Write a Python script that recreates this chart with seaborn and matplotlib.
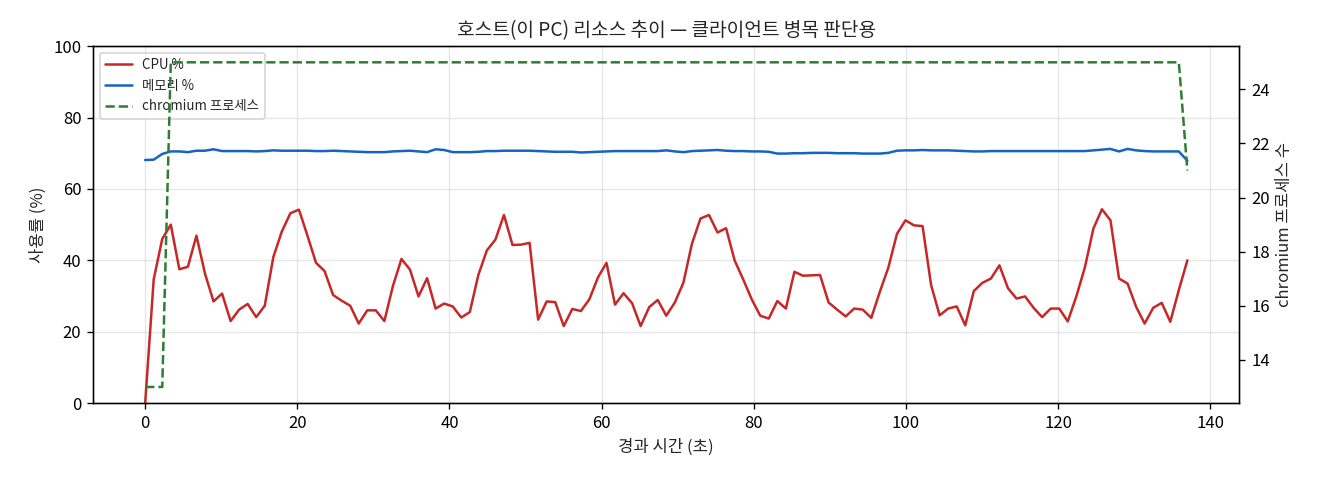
import numpy as np
import pandas as pd
import matplotlib
matplotlib.use("Agg")
import matplotlib.pyplot as plt
import seaborn as sns

# ---- data ----
n_points = 123
duration_s = 137.0
elapsed = [round(i * duration_s / (n_points - 1), 3) for i in range(n_points)]

cpu = [
    0.0, 34.7, 46.0, 50.0, 37.5, 38.2, 46.9, 36.3, 28.5, 30.7,
    23.0, 26.2, 27.8, 24.1, 27.3, 40.9, 48.1, 53.2, 54.2, 46.9,
    39.3, 37.0, 30.3, 28.7, 27.3, 22.3, 26.0, 26.0, 23.0, 32.8,
    40.4, 37.4, 29.9, 35.0, 26.5, 27.9, 27.1, 24.0, 25.5, 35.9,
    42.8, 45.8, 52.7, 44.3, 44.4, 44.9, 23.4, 28.5, 28.3, 21.6,
    26.4, 25.8, 29.1, 35.2, 39.3, 27.6, 30.8, 28.0, 21.6, 26.9,
    28.9, 24.5, 28.2, 33.7, 44.6, 51.7, 52.7, 47.8, 49.0, 40.0,
    34.7, 29.1, 24.5, 23.7, 28.6, 26.5, 36.8, 35.7, 35.8, 35.9,
    28.2, 26.2, 24.3, 26.5, 26.2, 23.9, 31.2, 38.0, 47.4, 51.2,
    49.8, 49.6, 33.1, 24.6, 26.5, 27.1, 21.8, 31.4, 33.7, 34.9,
    38.6, 32.2, 29.3, 29.9, 26.7, 24.1, 26.5, 26.5, 22.9, 29.9,
    38.0, 48.9, 54.3, 51.2, 34.9, 33.5, 27.0, 22.3, 26.7, 28.1,
    22.8, 31.7, 40.0,
]

memory = [
    68.1, 68.2, 69.8, 70.5, 70.5, 70.3, 70.7, 70.7, 71.1, 70.6,
    70.6, 70.6, 70.6, 70.5, 70.6, 70.8, 70.7, 70.7, 70.7, 70.7,
    70.6, 70.6, 70.7, 70.6, 70.5, 70.4, 70.3, 70.3, 70.3, 70.5,
    70.6, 70.7, 70.5, 70.3, 71.1, 70.9, 70.3, 70.3, 70.3, 70.4,
    70.6, 70.6, 70.7, 70.7, 70.7, 70.7, 70.6, 70.5, 70.4, 70.4,
    70.4, 70.2, 70.3, 70.4, 70.5, 70.6, 70.6, 70.6, 70.6, 70.6,
    70.6, 70.8, 70.5, 70.3, 70.6, 70.7, 70.8, 70.9, 70.7, 70.6,
    70.6, 70.5, 70.5, 70.4, 69.9, 69.9, 70.0, 70.0, 70.1, 70.1,
    70.1, 70.0, 70.0, 70.0, 69.9, 69.9, 69.9, 70.1, 70.7, 70.8,
    70.8, 70.9, 70.8, 70.8, 70.8, 70.7, 70.6, 70.5, 70.5, 70.6,
    70.6, 70.6, 70.6, 70.6, 70.6, 70.6, 70.6, 70.6, 70.6, 70.6,
    70.6, 70.8, 71.0, 71.2, 70.5, 71.2, 70.8, 70.6, 70.5, 70.5,
    70.5, 70.5, 67.9,
]

chromium = [13, 13, 13] + [25] * 119 + [21]

title = "호스트(이 PC) 리소스 추이 — 클라이언트 병목 판단용"
x_label = "경과 시간 (초)"
y_label = "사용률 (%)"
y2_label = "chromium 프로세스 수"
labels = ["CPU %", "메모리 %", "chromium 프로세스"]
colors = ["#c62828", "#1565c0", "#2e7d32"]

df = pd.DataFrame({"t": elapsed, "cpu": cpu, "mem": memory, "chrom": chromium})

# ---- style ----
sns.set_theme(style="ticks")
plt.rcParams["font.family"] = ["Noto Sans CJK KR", "DejaVu Sans"]
plt.rcParams["axes.unicode_minus"] = False
plt.rcParams["font.size"] = 10
plt.rcParams["axes.edgecolor"] = "black"
plt.rcParams["axes.linewidth"] = 0.8
for a in ("xtick", "ytick"):
    plt.rcParams[f"{a}.color"] = "black"
    plt.rcParams[f"{a}.labelsize"] = 10
    plt.rcParams[f"{a}.major.size"] = 3.5
    plt.rcParams[f"{a}.major.width"] = 0.8
    plt.rcParams[f"{a}.major.pad"] = 3.5

fig, ax = plt.subplots(figsize=(11, 4), dpi=120)
fig.subplots_adjust(left=0.0705, right=0.939, top=0.904, bottom=0.160)

sns.lineplot(data=df, x="t", y="cpu", ax=ax, color=colors[0], lw=1.5, label=labels[0], legend=False)
sns.lineplot(data=df, x="t", y="mem", ax=ax, color=colors[1], lw=1.5, label=labels[1], legend=False)
ax.set_ylim(0, 100)
ax.grid(True, color="#b0b0b0", alpha=0.3, lw=0.8)
ax.set_xlabel(x_label, fontsize=10)
ax.set_ylabel(y_label, fontsize=10)
ax.set_title(title, fontsize=11.5)

ax2 = ax.twinx()
sns.lineplot(data=df, x="t", y="chrom", ax=ax2, color=colors[2], lw=1.5, linestyle="--",
             label=labels[2], legend=False)
ax2.set_ylabel(y2_label, fontsize=10)
ax2.grid(False)

h1, l1 = ax.get_legend_handles_labels()
h2, l2 = ax2.get_legend_handles_labels()
ax.legend(h1 + h2, l1 + l2, loc="upper left", fontsize=8, frameon=True,
          framealpha=0.8, edgecolor="#cccccc", fancybox=True)

fig.savefig("out.png", dpi=120)
